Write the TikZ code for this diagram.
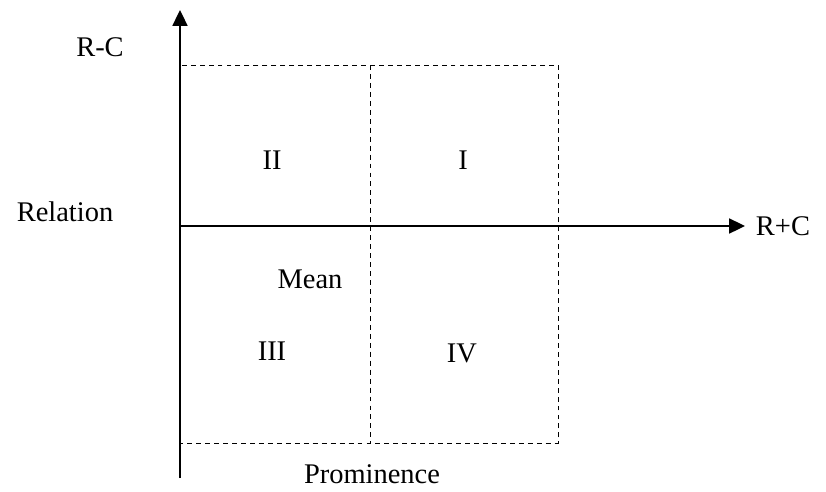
\documentclass[tikz,border=0pt]{standalone}
\usepackage{fontspec}
\setmainfont{Liberation Serif}
\usetikzlibrary{arrows.meta}
\tikzset{
  axis/.style={line width=1.1pt,-{Triangle[length=9pt,width=8.5pt]}},
  grid line/.style={line width=0.55pt,dash pattern=on 2.8pt off 2.3pt},
  lbl/.style={font=\fontsize{16.2}{19}\selectfont,inner sep=0pt}
}
\begin{document}
\begin{tikzpicture}[x=0.02cm,y=-0.02cm]
  \useasboundingbox (0,0) rectangle (826,491);
  % axes
  \coordinate (o) at (180,226);
  \coordinate (ybot) at (180,478);
  \coordinate (ytop) at (180,10);
  \coordinate (xend) at (745,226);
  \draw[axis] (ybot) -- (ytop);
  \draw[axis] (o) -- (xend);
  % quadrant box
  \draw[grid line] (180,65) rectangle (558,443);
  \draw[grid line] (370,65) -- (370,443);
  % labels
  \node[lbl] (rc) at (100,47) {R-C};
  \node[lbl] (rel) at (65,212) {Relation};
  \node[lbl] (q2) at (272,160) {II};
  \node[lbl] (q1) at (463,160) {I};
  \node[lbl] (mean) at (310,279) {Mean};
  \node[lbl] (q3) at (272,351) {III};
  \node[lbl] (q4) at (462,353) {IV};
  \node[lbl] (rpc) at (783,226) {R+C};
  \node[lbl] (prom) at (372,474) {Prominence};
\end{tikzpicture}
\end{document}
